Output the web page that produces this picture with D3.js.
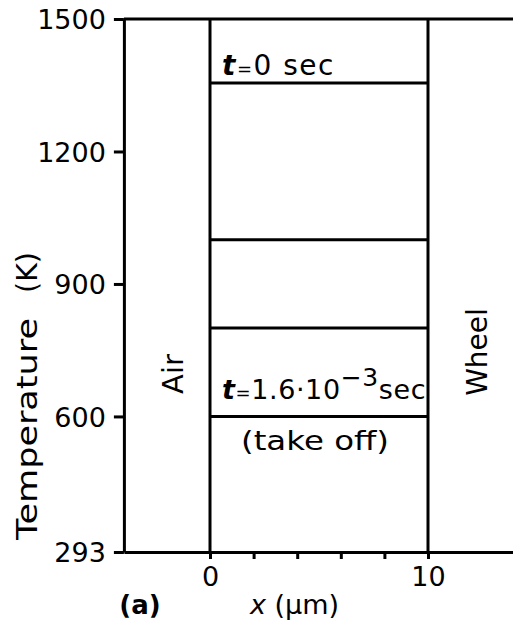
<!DOCTYPE html>
<html>
<head>
<meta charset="utf-8">
<script src="https://cdn.jsdelivr.net/npm/d3@7"></script>
<style>
    body { margin: 0; background: #fff; }
    svg { display: block; }
    text { font-family: "DejaVu Sans", sans-serif; fill: #000; }
</style>
</head>
<body>
<div id="chart"></div>
<script>
"use strict";

// temperature ticks (K) and x ticks (um)
var tempTicks = [293, 600, 900, 1200, 1500];
var xTicks = [0, 2, 4, 6, 8, 10];
var xTickLabels = ["0", "", "", "", "", "10"];

// film boundaries (um) and the profile temperatures
var filmEdges = [0, 10];
var profileTemps = [1355, 1000, 800, 600];

var W = 513, H = 631;

var x = d3.scaleLinear().domain([-3.95, 14]).range([123.9, 515.2]);
var y = d3.scaleLinear().domain([293, 1500]).range([552, 19]);

var svg = d3.select("#chart")
    .append("svg")
    .attr("width", W)
    .attr("height", H);

var lineW = 3;

// left axis
var yAxis = svg.append("g")
    .attr("transform", "translate(" + x(-3.95) + ",0)")
    .call(d3.axisLeft(y).tickValues(tempTicks).tickSize(10).tickSizeOuter(0).tickPadding(8)
        .tickFormat(function (d) { return d; }));

yAxis.selectAll("text")
    .attr("font-size", 27)
    .attr("font-family", "DejaVu Sans")
    .attr("dy", "0.36em");

// bottom axis
var xAxis = svg.append("g")
    .attr("transform", "translate(0," + y(293) + ")")
    .call(d3.axisBottom(x).tickValues(xTicks).tickSize(7).tickSizeOuter(0).tickPadding(8)
        .tickFormat(function (d, i) { return xTickLabels[i]; }));

xAxis.selectAll("text")
    .attr("font-size", 27)
    .attr("font-family", "DejaVu Sans");

svg.selectAll(".domain, .tick line")
    .attr("stroke", "#000")
    .attr("stroke-width", lineW);

// top border at 1500 K
svg.append("line")
    .attr("x1", x(-3.95))
    .attr("x2", W)
    .attr("y1", y(1500))
    .attr("y2", y(1500))
    .attr("stroke", "#000")
    .attr("stroke-width", lineW);

// film boundaries
svg.selectAll("line.edge")
    .data(filmEdges)
    .enter()
    .append("line")
    .attr("class", "edge")
    .attr("x1", function (d) { return x(d); })
    .attr("x2", function (d) { return x(d); })
    .attr("y1", y(293))
    .attr("y2", y(1500))
    .attr("stroke", "#000")
    .attr("stroke-width", lineW);

// temperature profiles
svg.selectAll("line.profile")
    .data(profileTemps)
    .enter()
    .append("line")
    .attr("class", "profile")
    .attr("x1", x(filmEdges[0]))
    .attr("x2", x(filmEdges[1]))
    .attr("y1", function (d) { return y(d); })
    .attr("y2", function (d) { return y(d); })
    .attr("stroke", "#000")
    .attr("stroke-width", lineW);

// t = 0 sec
var t0 = svg.append("text")
    .attr("x", x(0) + 12)
    .attr("y", y(profileTemps[0]) - 8)
    .attr("font-size", 28)
    .attr("letter-spacing", 1.5);
t0.append("tspan").attr("font-style", "italic").attr("font-weight", "bold").text("t");
t0.append("tspan").attr("font-size", 18).text("=");
t0.append("tspan").text("0 sec");

// t = 1.6e-3 sec
var t1 = svg.append("text")
    .attr("x", x(0) + 12)
    .attr("y", y(profileTemps[3]) - 17)
    .attr("font-size", 27)
    .attr("letter-spacing", 0.6);
t1.append("tspan").attr("font-style", "italic").attr("font-weight", "bold").text("t");
t1.append("tspan").attr("font-size", 18).text("=");
t1.append("tspan").text("1.6\u00b710");
t1.append("tspan").attr("dy", -13).attr("font-size", 25).text("\u22123");
t1.append("tspan").attr("dy", 13).text("sec");

svg.append("text")
    .attr("x", x(5) - 4)
    .attr("y", y(profileTemps[3]) + 34)
    .attr("text-anchor", "middle")
    .attr("font-size", 27)
    .attr("textLength", 148)
    .attr("lengthAdjust", "spacingAndGlyphs")
    .text("(take off)");

// region labels
svg.append("text")
    .attr("transform", "translate(183,374) rotate(-90)")
    .attr("text-anchor", "middle")
    .attr("font-size", 29)
    .text("Air");

svg.append("text")
    .attr("transform", "translate(487,352) rotate(-90)")
    .attr("text-anchor", "middle")
    .attr("font-size", 28)
    .text("Wheel");

// axis titles
svg.append("text")
    .attr("transform", "translate(37,540) rotate(-90)")
    .attr("font-size", 28)
    .attr("textLength", 222)
    .attr("lengthAdjust", "spacingAndGlyphs")
    .text("Temperature");

svg.append("text")
    .attr("transform", "translate(37,293) rotate(-90)")
    .attr("font-size", 28)
    .attr("textLength", 41)
    .attr("lengthAdjust", "spacingAndGlyphs")
    .text("(K)");

var xl = svg.append("text")
    .attr("x", 250)
    .attr("y", 614)
    .attr("font-size", 27);
xl.append("tspan").attr("font-style", "italic").text("x");
xl.append("tspan").text(" (\u00b5m)");

svg.append("text")
    .attr("x", 140)
    .attr("y", 614)
    .attr("text-anchor", "middle")
    .attr("font-size", 26)
    .attr("font-weight", "bold")
    .text("(a)");
</script>
</body>
</html>
